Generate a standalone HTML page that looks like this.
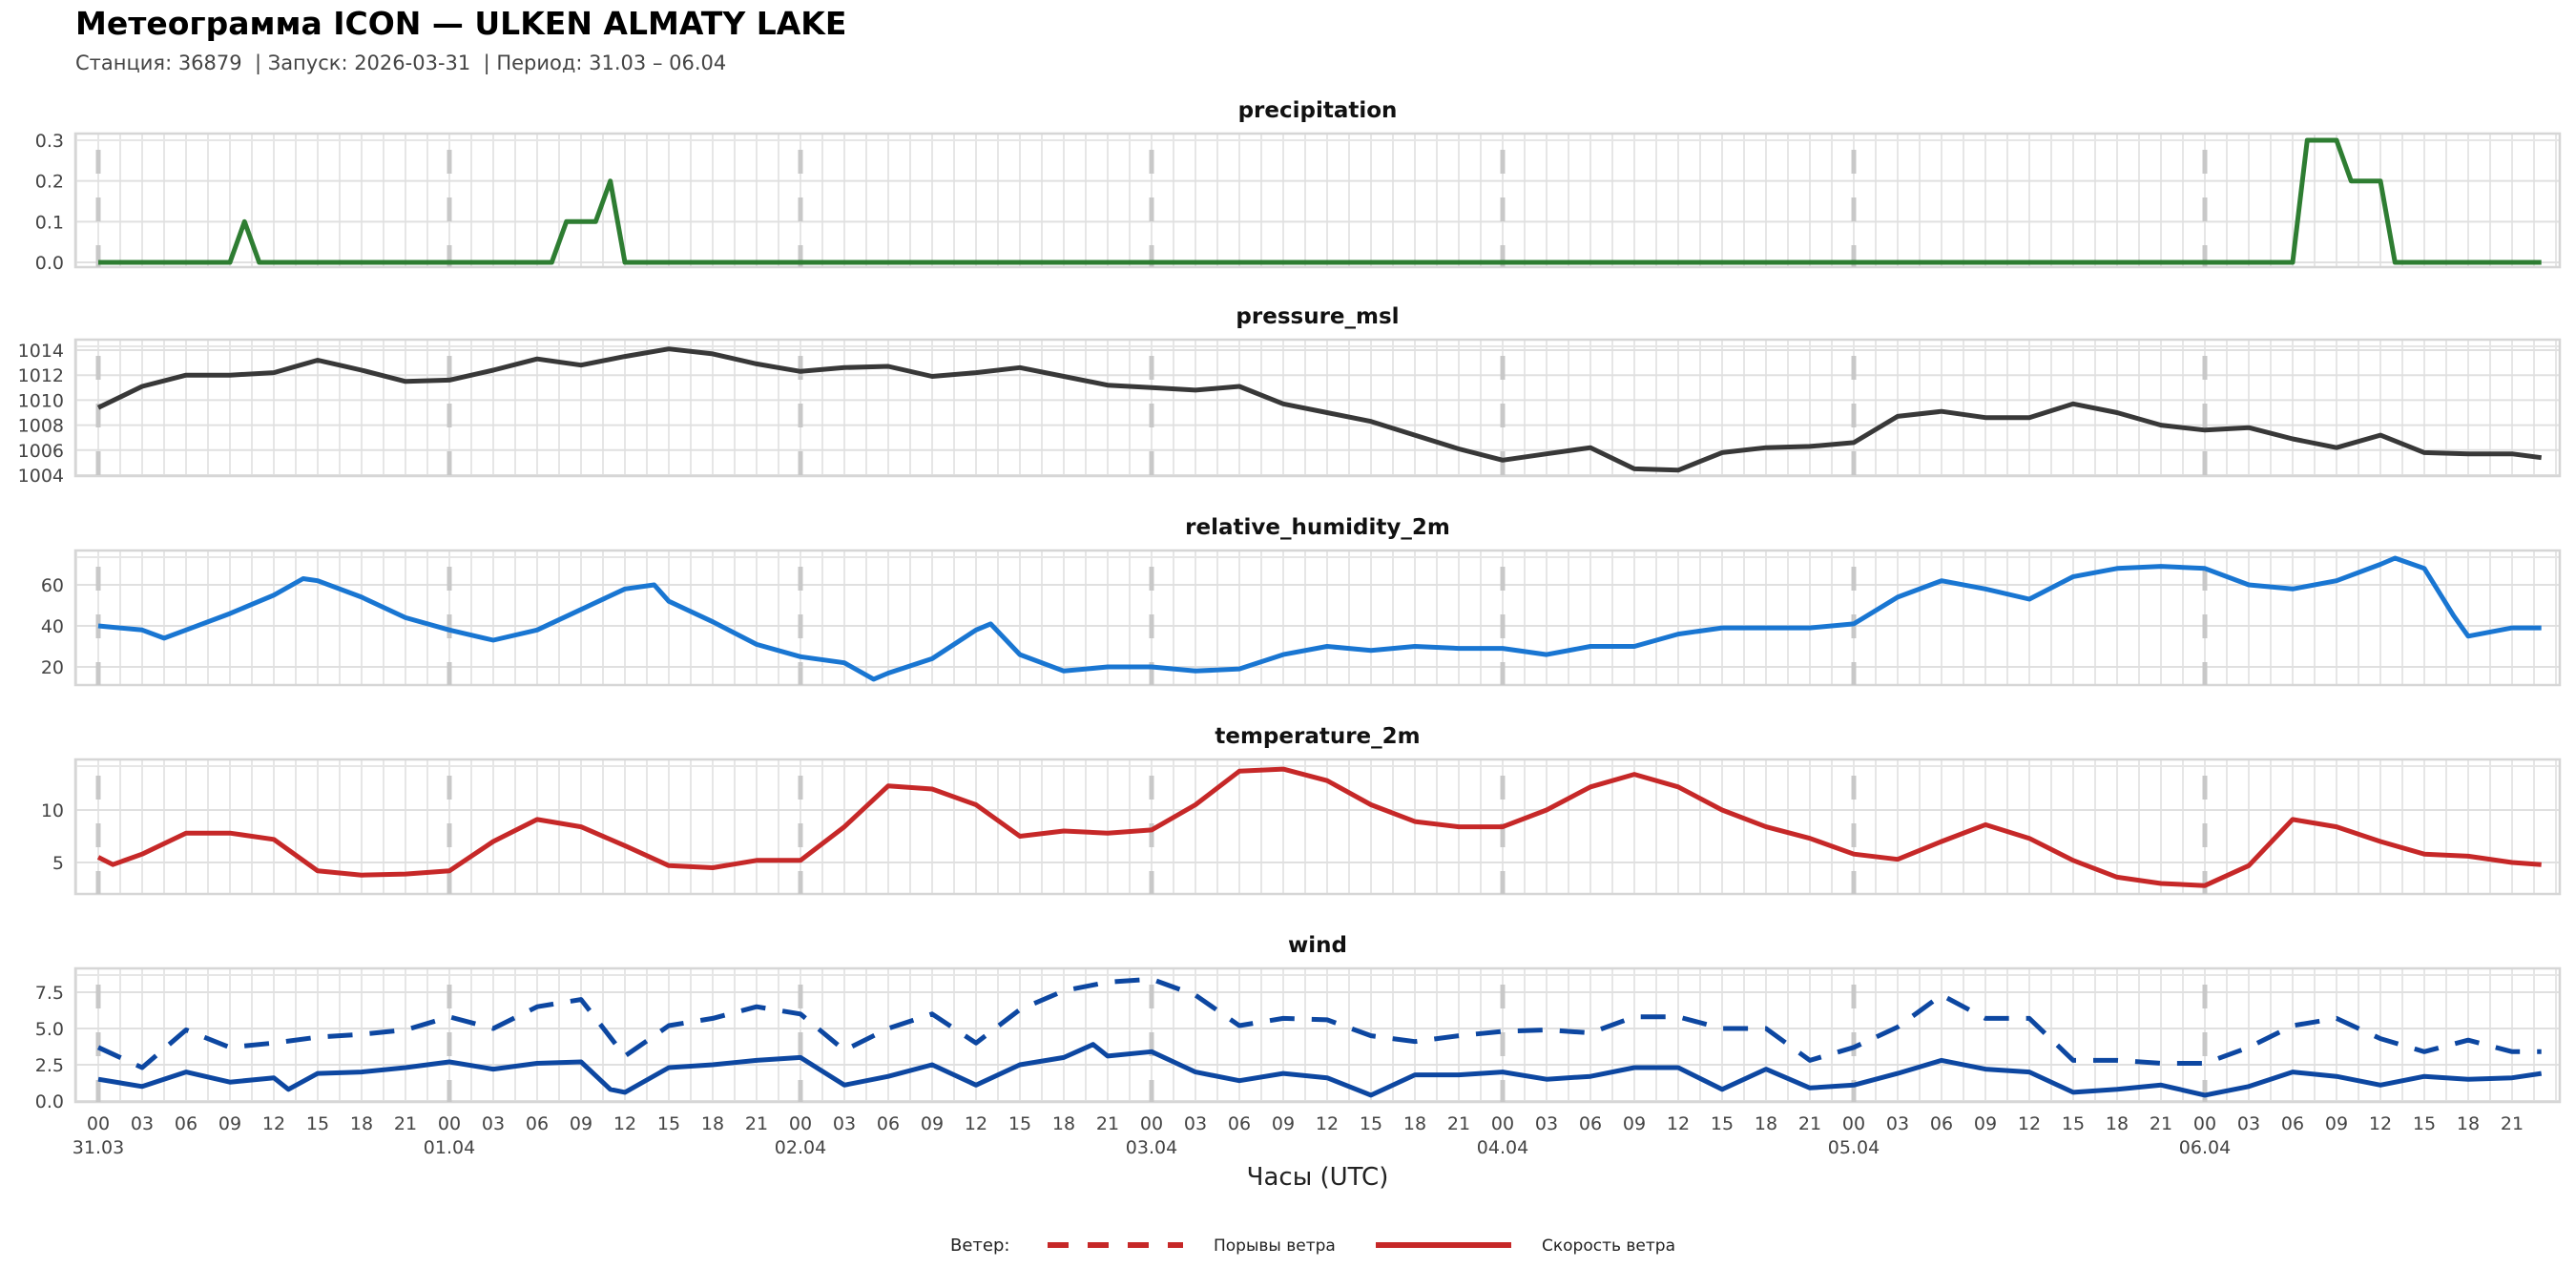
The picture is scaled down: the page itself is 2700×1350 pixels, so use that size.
<!DOCTYPE html>
<html><head><meta charset="utf-8">
<style>
html,body{margin:0;padding:0;background:#fff;}
svg{display:block;font-family:"DejaVu Sans","Liberation Sans",sans-serif;}
</style></head>
<body>
<svg id="chart" width="2700" height="1350" viewBox="0 0 2700 1350" xmlns="http://www.w3.org/2000/svg">
<text x="79" y="36" font-size="33" font-weight="bold" fill="#000">Метеограмма ICON — ULKEN ALMATY LAKE</text>
<text x="79" y="73" font-size="21" fill="#444" xml:space="preserve">Станция: 36879  | Запуск: 2026-03-31  | Период: 31.03 – 06.04</text>
<g id="panels"></g>
<text x="1381" y="1242" font-size="26" text-anchor="middle" fill="#222">Часы (UTC)</text>
<g>
<text x="996" y="1311" font-size="18" fill="#222">Ветер:</text>
<line x1="1098" y1="1305" x2="1240" y2="1305" stroke="#c62828" stroke-width="6" stroke-dasharray="22,20"/>
<text x="1272" y="1311" font-size="17" fill="#222">Порывы ветра</text>
<line x1="1442" y1="1305" x2="1584" y2="1305" stroke="#c62828" stroke-width="6"/>
<text x="1616" y="1311" font-size="17" fill="#222">Скорость ветра</text>
</g>
</svg>
<script>
// ---- data ----
const dayLabels = ["31.03","01.04","02.04","03.04","04.04","05.04","06.04"];
const hourLabels = ["00","03","06","09","12","15","18","21"];
const precipHours = [
0,1,2,3,4,5,6,7,8,9,10,11,12,13,14,15,16,17,18,19,20,21,22,23,
24,25,26,27,28,29,30,31,32,33,34,35,36,37,38,39,40,41,42,43,44,45,46,47,
144,145,146,147,148,149,150,151,152,153,154,155,156,157,158,159,160,161,162,163,164,165,166,167];
const precipValues = [
0,0,0,0,0,0,0,0,0,0,0.1,0,0,0,0,0,0,0,0,0,0,0,0,0,
0,0,0,0,0,0,0,0,0.1,0.1,0.1,0.2,0,0,0,0,0,0,0,0,0,0,0,0,
0,0,0,0,0,0,0,0.3,0.3,0.3,0.2,0.2,0.2,0,0,0,0,0,0,0,0,0,0,0];
const hours3 = [0,3,6,9,12,15,18,21,24,27,30,33,36,39,42,45,48,51,54,57,60,63,66,69,72,75,78,81,84,87,90,93,96,99,102,105,108,111,114,117,120,123,126,129,132,135,138,141,144,147,150,153,156,159,162,165,167];
const pressureValues = [1009.4,1011.1,1012.0,1012.0,1012.2,1013.2,1012.4,1011.5,1011.6,1012.4,1013.3,1012.8,1013.5,1014.1,1013.7,1012.9,1012.3,1012.6,1012.7,1011.9,1012.2,1012.6,1011.9,1011.2,1011.0,1010.8,1011.1,1009.7,1009.0,1008.3,1007.2,1006.1,1005.2,1005.7,1006.2,1004.5,1004.4,1005.8,1006.2,1006.3,1006.6,1008.7,1009.1,1008.6,1008.6,1009.7,1009.0,1008.0,1007.6,1007.8,1006.9,1006.2,1007.2,1005.8,1005.7,1005.7,1005.4];
const humidityHours = [0,3,4.5,6,9,12,14,15,18,21,24,27,30,33,36,38,39,42,45,48,51,53,54,57,60,61,63,66,69,72,75,78,81,84,87,90,93,96,99,102,105,108,111,114,117,120,123,126,129,132,135,138,141,144,147,150,153,156,157,159,161,162,165,167];
const humidityValues = [40,38,34,38,46,55,63,62,54,44,38,33,38,48,58,60,52,42,31,25,22,14,17,24,38,41,26,18,20,20,18,19,26,30,28,30,29,29,26,30,30,36,39,39,39,41,54,62,58,53,64,68,69,68,60,58,62,70,73,68,45,35,39,39];
const temperatureHours = [0,1,3,6,9,12,15,18,21,24,27,30,33,36,39,42,45,48,51,54,57,60,63,66,69,72,75,78,81,84,87,90,93,96,99,102,105,108,111,114,117,120,123,126,129,132,135,138,141,144,147,150,153,156,159,162,165,167];
const temperatureValues = [5.5,4.8,5.8,7.8,7.8,7.2,4.2,3.8,3.9,4.2,7.0,9.1,8.4,6.6,4.7,4.5,5.2,5.2,8.4,12.3,12.0,10.5,7.5,8.0,7.8,8.1,10.5,13.7,13.9,12.8,10.5,8.9,8.4,8.4,10.0,12.2,13.4,12.2,10.0,8.4,7.3,5.8,5.3,7.0,8.6,7.3,5.2,3.6,3.0,2.8,4.7,9.1,8.4,7.0,5.8,5.6,5.0,4.8];
const windSpeedHours = [0,3,6,9,12,13,15,18,21,24,27,30,33,35,36,39,42,45,48,51,54,57,60,63,66,68,69,72,75,78,81,84,87,90,93,96,99,102,105,108,111,114,117,120,123,126,129,132,135,138,141,144,147,150,153,156,159,162,165,167];
const windSpeedValues = [1.5,1.0,2.0,1.3,1.6,0.8,1.9,2.0,2.3,2.7,2.2,2.6,2.7,0.8,0.6,2.3,2.5,2.8,3.0,1.1,1.7,2.5,1.1,2.5,3.0,3.9,3.1,3.4,2.0,1.4,1.9,1.6,0.4,1.8,1.8,2.0,1.5,1.7,2.3,2.3,0.8,2.2,0.9,1.1,1.9,2.8,2.2,2.0,0.6,0.8,1.1,0.4,1.0,2.0,1.7,1.1,1.7,1.5,1.6,1.9];
const windGustValues = [3.7,2.3,4.9,3.7,4.0,4.4,4.6,4.9,5.8,5.0,6.5,7.0,3.1,5.2,5.7,6.5,6.0,3.5,5.0,6.0,4.0,6.3,7.6,8.2,8.4,7.3,5.2,5.7,5.6,4.5,4.1,4.5,4.8,4.9,4.7,5.8,5.8,5.0,5.0,2.8,3.7,5.1,7.3,5.7,5.7,2.8,2.8,2.6,2.6,3.7,5.2,5.7,4.3,3.4,4.2,3.4,3.4];
const precipTicks = [0,0.1,0.2,0.3];
const precipTickLabels = ["0.0","0.1","0.2","0.3"];
const pressureTicks = [1004,1006,1008,1010,1012,1014];
const pressureTickLabels = ["1004","1006","1008","1010","1012","1014"];
const humidityTicks = [20,40,60];
const humidityTickLabels = ["20","40","60"];
const temperatureTicks = [5,10];
const temperatureTickLabels = ["5","10"];
const windTicks = [0,2.5,5,7.5];
const windTickLabels = ["0.0","2.5","5.0","7.5"];

// ---- layout ----
const NS = "http://www.w3.org/2000/svg";
const X0 = 79, X1 = 2683;
const H0px = 103, PX_PER_HOUR = 368/24;
function xScale(h){ return H0px + h*PX_PER_HOUR; }
const root = document.getElementById('panels');
function mk(tag, attrs, parent){
  const e = document.createElementNS(NS, tag);
  for (const k in attrs) e.setAttribute(k, attrs[k]);
  parent.appendChild(e); return e;
}
const panels = [
 {name:"precipitation", top:140, bottom:280, vTop:0.3, pTop:147, vBot:0, pBot:275, ticks:precipTicks, labels:precipTickLabels,
  series:[{x:precipHours, y:precipValues, color:"#2e7d32", dash:null, name:"precipitation-line"}]},
 {name:"pressure_msl", top:356, bottom:499, vTop:1014, pTop:367, vBot:1004, pBot:498, ticks:pressureTicks, labels:pressureTickLabels,
  series:[{x:hours3, y:pressureValues, color:"#383838", dash:null, name:"pressure-line"}]},
 {name:"relative_humidity_2m", top:577, bottom:718, vTop:60, pTop:613, vBot:20, pBot:699, ticks:humidityTicks, labels:humidityTickLabels,
  series:[{x:humidityHours, y:humidityValues, color:"#1976d2", dash:null, name:"humidity-line"}]},
 {name:"temperature_2m", top:796, bottom:937, vTop:10, pTop:849, vBot:5, pBot:904, ticks:temperatureTicks, labels:temperatureTickLabels,
  series:[{x:temperatureHours, y:temperatureValues, color:"#c62828", dash:null, name:"temperature-line"}]},
 {name:"wind", top:1015, bottom:1155, vTop:7.5, pTop:1040, vBot:0, pBot:1154, ticks:windTicks, labels:windTickLabels,
  series:[{x:hours3, y:windGustValues, color:"#0d47a1", dash:"26,18", name:"wind-gust-line"},
          {x:windSpeedHours, y:windSpeedValues, color:"#0d47a1", dash:null, name:"wind-speed-line"}]}
];
panels.forEach(function(p, pi){
  const yScale = function(v){ return p.pBot + (v - p.vBot)*(p.pTop - p.pBot)/(p.vTop - p.vBot); };
  const g = mk('g', {}, root);
  
  
  const t = mk('text', {x:1381, y:p.top-17, 'font-size':23, 'font-weight':'bold', 'text-anchor':'middle', fill:'#111'}, g);
  t.textContent = p.name;
  
  
  for (let h = -1.5; h <= 168; h += 1.5){
    const x = xScale(h); if (x < X0 || x > X1) continue;
    const l = mk('line', {x1:x, x2:x, y1:p.top, y2:p.bottom, stroke:'#e6e6e6', 'stroke-width':2}, g);
    
    
  }
  p.ticks.forEach(function(v, i){
    const y = yScale(v);
    const l = mk('line', {x1:X0, x2:X1, y1:y, y2:y, stroke:'#e0e0e0', 'stroke-width':2}, g);
    
    
    const tl = mk('text', {x:67, y:y+7, 'font-size':19, 'text-anchor':'end', fill:'#444'}, g);
    tl.textContent = p.labels[i];
    
    
  });
  mk('line', {x1:X0, x2:X1, y1:p.top+7, y2:p.top+7, stroke:'#e6e6e6', 'stroke-width':2}, g);
  const fr = mk('rect', {x:X0, y:p.top, width:X1-X0, height:p.bottom-p.top, fill:'none', stroke:'#d6d6d6', 'stroke-width':2.5}, g);
  
  
  dayLabels.forEach(function(d, di){
    const x = xScale(di*24);
    const l = mk('line', {x1:x, x2:x, y1:p.top+17, y2:p.bottom, stroke:'#c8c8c8', 'stroke-width':5, 'stroke-dasharray':'25,25'}, g);
    
    
  });
  p.series.forEach(function(s){
    let d = '';
    s.x.forEach(function(h, i){ d += (i ? 'L' : 'M') + xScale(h).toFixed(1) + ',' + yScale(s.y[i]).toFixed(1); });
    const path = mk('path', {d:d, fill:'none', stroke:s.color, 'stroke-width':5, 'stroke-linejoin':'round'}, g);
    if (s.dash) path.setAttribute('stroke-dasharray', s.dash);
    
    
  });
  if (pi === panels.length - 1){
    dayLabels.forEach(function(dl, di){
      hourLabels.forEach(function(hl, hi){
        const x = xScale(di*24 + hi*3);
        const tx = mk('text', {x:x, y:p.bottom+29, 'font-size':19, 'text-anchor':'middle', fill:'#444'}, g);
        tx.textContent = hl;
        
        
      });
      const dx = mk('text', {x:xScale(di*24), y:p.bottom+54, 'font-size':19, 'text-anchor':'middle', fill:'#444'}, g);
      dx.textContent = dl;
      
      
    });
  }
});
</script>
</body></html>
